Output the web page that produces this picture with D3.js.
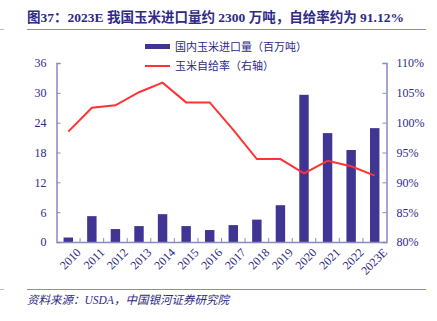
<!DOCTYPE html>
<html>
<head>
<meta charset="utf-8">
<script src="https://cdn.jsdelivr.net/npm/d3@7"></script>
<style>
  body { margin: 0; background: #fff; }
  svg text { font-family: "Liberation Serif", "Noto Sans CJK SC", serif; }
</style>
</head>
<body>
<div id="chart"></div>
<script>
// data
var years = ["2010", "2011", "2012", "2013", "2014", "2015", "2016", "2017", "2018", "2019", "2020", "2021", "2022", "2023E"];
var imports = [0.9, 5.2, 2.6, 3.2, 5.6, 3.2, 2.4, 3.4, 4.5, 7.4, 29.6, 21.9, 18.5, 22.9];
var selfRate = [98.5, 102.5, 102.9, 105.1, 106.7, 103.4, 103.4, 98.8, 93.9, 93.9, 91.5, 93.6, 92.7, 91.12];
var leftTicks = [0, 6, 12, 18, 24, 30, 36];
var rightTicks = [80, 85, 90, 95, 100, 105, 110];

var w = 437, h = 321;
var navy = "#2e2a86";
var axisColor = "#8c88c4";
var barColor = "#413593";
var lineColor = "#ff3333";

var svg = d3.select("#chart").append("svg")
  .attr("width", w)
  .attr("height", h);

// title
svg.append("text")
  .attr("x", 27).attr("y", 22)
  .attr("font-size", "13.5px")
  .attr("font-weight", "bold")
  .attr("fill", navy)
  .text("图37：2023E 我国玉米进口量约 2300 万吨，自给率约为 91.12%");

svg.append("line").attr("x1", 27).attr("x2", 426).attr("y1", 29.5).attr("y2", 29.5)
  .attr("stroke", axisColor).attr("stroke-width", 1);
svg.append("line").attr("x1", 0).attr("x2", 4).attr("y1", 29.5).attr("y2", 29.5)
  .attr("stroke", "#bbb").attr("stroke-width", 1);

var plotL = 56.5, plotR = 386.5, plotT = 63, plotB = 242;

var x = d3.scaleBand().domain(years).range([plotL, plotR]).paddingInner(0.6).paddingOuter(0.3);
var y = d3.scaleLinear().domain([0, 36]).range([plotB, plotT]);
var y2 = d3.scaleLinear().domain([80, 110]).range([plotB, plotT]);

// bars
svg.selectAll(".bar")
  .data(imports)
  .enter()
  .append("rect")
  .attr("class", "bar")
  .attr("x", (d, i) => x(years[i]))
  .attr("y", (d) => y(d))
  .attr("width", x.bandwidth())
  .attr("height", (d) => plotB - y(d))
  .attr("fill", barColor);

// line
var line = d3.line()
  .x((d, i) => x(years[i]) + x.bandwidth() / 2)
  .y((d) => y2(d));

svg.append("path")
  .datum(selfRate)
  .attr("d", line)
  .attr("fill", "none")
  .attr("stroke", lineColor)
  .attr("stroke-width", 2);

// left axis
var yAxis = d3.axisLeft(y).tickValues(leftTicks).tickSize(-4).tickPadding(10).tickFormat(d3.format("d"));
var gl = svg.append("g").attr("transform", "translate(" + plotL + ",0)").call(yAxis);

// right axis
var y2Axis = d3.axisRight(y2).tickValues(rightTicks).tickSize(-4).tickPadding(10).tickFormat((d) => d + "%");
var gr = svg.append("g").attr("transform", "translate(" + plotR + ",0)").call(y2Axis);

// bottom axis
var xAxis = d3.axisBottom(x).tickSize(0).tickPadding(6);
var gb = svg.append("g").attr("transform", "translate(0," + plotB + ")").call(xAxis);
gb.selectAll(".tick text")
  .attr("text-anchor", "end")
  .attr("transform", "translate(4,2) rotate(-45)")
  .attr("dx", 0).attr("dy", "0.6em");

// category boundary ticks
var step = x.step();
svg.selectAll(".xtick")
  .data(years.slice(1))
  .enter()
  .append("line")
  .attr("class", "xtick")
  .attr("x1", (d) => x(d) - (step - x.bandwidth()) / 2)
  .attr("x2", (d) => x(d) - (step - x.bandwidth()) / 2)
  .attr("y1", plotB).attr("y2", plotB - 4)
  .attr("stroke", axisColor);

[gl, gr, gb].forEach(function(g) {
  g.select(".domain").attr("stroke", axisColor).attr("stroke-width", 1.5);
  g.selectAll(".tick line").attr("stroke", axisColor);
  g.selectAll(".tick text")
    .attr("fill", navy)
    .attr("font-size", "12px")
    .attr("font-family", "Liberation Serif, serif");
});

// legend
var lg = svg.append("g");
lg.append("rect").attr("x", 145).attr("y", 44).attr("width", 25).attr("height", 5).attr("fill", barColor);
lg.append("text").attr("x", 175).attr("y", 51).attr("font-size", "11px").attr("fill", navy)
  .text("国内玉米进口量（百万吨）");
lg.append("line").attr("x1", 145).attr("x2", 170).attr("y1", 66).attr("y2", 66)
  .attr("stroke", lineColor).attr("stroke-width", 2);
lg.append("text").attr("x", 175).attr("y", 70).attr("font-size", "11px").attr("fill", navy)
  .text("玉米自给率（右轴）");

// source
svg.append("line").attr("x1", 27).attr("x2", 426).attr("y1", 289.5).attr("y2", 289.5)
  .attr("stroke", axisColor).attr("stroke-width", 1);
svg.append("line").attr("x1", 0).attr("x2", 4).attr("y1", 289.5).attr("y2", 289.5)
  .attr("stroke", "#bbb").attr("stroke-width", 1);
svg.append("text")
  .attr("x", 27).attr("y", 304)
  .attr("font-size", "11.5px")
  .attr("font-style", "italic")
  .attr("fill", navy)
  .text("资料来源：USDA，中国银河证券研究院");
</script>
</body>
</html>
